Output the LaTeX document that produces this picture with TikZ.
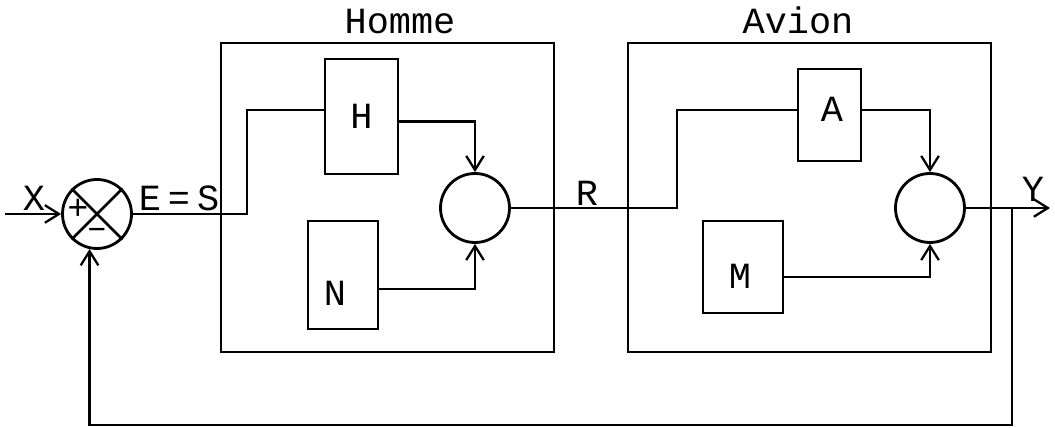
\documentclass[tikz,border=0pt]{standalone}
\usepackage{fontspec}
\setmainfont{Liberation Mono}
\usetikzlibrary{arrows.meta}
\begin{document}
\begin{tikzpicture}[x=0.02cm, y=-0.02cm, line width=1.6pt,
		font=\fontsize{21}{24}\selectfont,
		>={Straight Barb[length=8pt,width=10pt,line width=1.3pt]},
		block/.style={draw, inner sep=0pt},
		junction/.style={draw, circle, minimum size=1.38cm, inner sep=0pt},
		tag/.style={anchor=base, inner sep=0pt}]
		\useasboundingbox (0,0) rectangle (1055,428);
		
		% outer boxes
		\node[block, minimum width=6.66cm, minimum height=6.18cm] (homme) at (387.5,197.5) {};
		\node[tag] (hommelbl) at (400,34) {Homme};
		\node[block, minimum width=7.26cm, minimum height=6.18cm] (avion) at (809.5,197.5) {};
		\node[tag] (avionlbl) at (798,34) {Avion};
		
		% comparator
		\node[junction] (sum) at (97,214) {};
		\draw (sum.north west) -- (sum.south east) (sum.north east) -- (sum.south west);
		\node[font=\fontsize{20}{22}\selectfont] (plus) at (78,209) {+};
		\node[font=\fontsize{20}{22}\selectfont] (minus) at (97,233) {--};
		\coordinate (xin) at (5,214);
		\draw[->] (xin) -- (sum.west);
		\node[tag] (xlbl) at (34,211) {X};
		
		% Homme
		\node[block, minimum width=1.46cm, minimum height=2.3cm] (H) at (361.5,116.5) {H};
		\node[block, minimum width=1.4cm, minimum height=2.16cm] (N) at (343,275) {};
		\node[tag] (nlbl) at (335,306) {N};
		\node[junction] (hsum) at (475,208) {};
		\coordinate (split) at (247,214);
		\draw (sum.east) -- (split) |- ([yshift=0.13cm]H.west);
		\node[tag] (eslbl) at (179,211) {E\hspace{4pt}=\hspace{4pt}S};
		\draw[->] ([yshift=-0.1cm]H.east) -| (hsum.north);
		\draw[->] ([yshift=-0.28cm]N.east) -| (hsum.south);
		
		% Avion
		\node[block, minimum width=1.26cm, minimum height=1.84cm] (A) at (829.5,115) {};
		\node[tag] (albl) at (832,122) {A};
		\node[block, minimum width=1.6cm, minimum height=1.84cm] (M) at (743,267) {};
		\node[tag] (mlbl) at (740,289) {M};
		\node[junction] (asum) at (930,208) {};
		\coordinate (rin) at (677,208);
		\draw (hsum.east) -- (rin) |- ([yshift=0.1cm]A.west);
		\node[tag] (rlbl) at (587,206) {R};
		\draw[->] ([yshift=0.1cm]A.east) -| (asum.north);
		\draw[->] ([yshift=-0.2cm]M.east) -| (asum.south);
		
		% output and feedback
		\coordinate (yout) at (1050,208);
		\coordinate (fb) at (1012,208);
		\coordinate (fbdown) at (1012,425);
		\draw[->] (asum.east) -- (yout);
		\node[tag] (ylbl) at (1033,202) {Y};
		\draw[->] (fb) -- (fbdown) -| (sum.258);
	\end{tikzpicture}
\end{document}
